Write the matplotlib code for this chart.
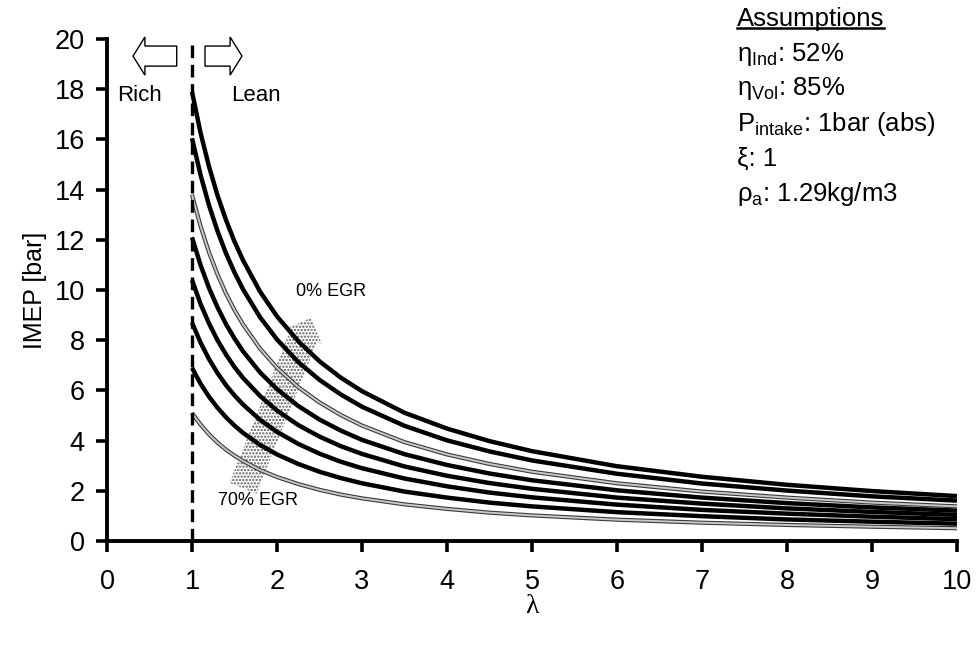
import matplotlib
matplotlib.use("Agg")
import matplotlib.pyplot as plt
from matplotlib.patches import FancyArrowPatch
from matplotlib.lines import Line2D

plt.rcParams['font.family'] = ['Liberation Sans', 'DejaVu Sans']
plt.rcParams['mathtext.fontset'] = 'custom'
plt.rcParams['mathtext.rm'] = 'Liberation Sans'
plt.rcParams['mathtext.it'] = 'Liberation Sans'
plt.rcParams['hatch.color'] = '#5a5a5a'
plt.rcParams['hatch.linewidth'] = 1.1

# ── data ──
LAMBDA = [1.0, 1.1, 1.2, 1.3, 1.4, 1.5, 1.6, 1.8, 2.0, 2.25, 2.5, 2.75,
          3.0, 3.5, 4.0, 4.5, 5.0, 6.0, 7.0, 8.0, 9.0, 10.0]

EGR_LABELS = ['0%', '10%', '20%', '30%', '40%', '50%', '60%', '70%']

IMEP_EGR00 = [17.90, 16.27, 14.92, 13.77, 12.79, 11.93, 11.19, 9.94, 8.95, 7.96, 7.16, 6.51,
              5.97, 5.11, 4.48, 3.98, 3.58, 2.98, 2.56, 2.24, 1.99, 1.79]
IMEP_EGR10 = [16.05, 14.59, 13.38, 12.35, 11.46, 10.70, 10.03, 8.92, 8.03, 7.13, 6.42, 5.84,
              5.35, 4.59, 4.01, 3.57, 3.21, 2.68, 2.29, 2.01, 1.78, 1.61]
IMEP_EGR20 = [13.80, 12.55, 11.50, 10.62, 9.86, 9.20, 8.63, 7.67, 6.90, 6.13, 5.52, 5.02,
              4.60, 3.94, 3.45, 3.07, 2.76, 2.30, 1.97, 1.73, 1.53, 1.38]
IMEP_EGR30 = [12.10, 11.00, 10.08, 9.31, 8.64, 8.07, 7.56, 6.72, 6.05, 5.38, 4.84, 4.40,
              4.03, 3.46, 3.03, 2.69, 2.42, 2.02, 1.73, 1.51, 1.34, 1.21]
IMEP_EGR40 = [10.40, 9.45, 8.67, 8.00, 7.43, 6.93, 6.50, 5.78, 5.20, 4.62, 4.16, 3.78,
              3.47, 2.97, 2.60, 2.31, 2.08, 1.73, 1.49, 1.30, 1.16, 1.04]
IMEP_EGR50 = [8.70, 7.91, 7.25, 6.69, 6.21, 5.80, 5.44, 4.83, 4.35, 3.87, 3.48, 3.16,
              2.90, 2.49, 2.18, 1.93, 1.74, 1.45, 1.24, 1.09, 0.97, 0.87]
IMEP_EGR60 = [6.90, 6.27, 5.75, 5.31, 4.93, 4.60, 4.31, 3.83, 3.45, 3.07, 2.76, 2.51,
              2.30, 1.97, 1.73, 1.53, 1.38, 1.15, 0.99, 0.86, 0.77, 0.69]
IMEP_EGR70 = [5.10, 4.64, 4.25, 3.92, 3.64, 3.40, 3.19, 2.83, 2.55, 2.27, 2.04, 1.85,
              1.70, 1.46, 1.28, 1.13, 1.02, 0.85, 0.73, 0.64, 0.57, 0.51]

CURVES = [IMEP_EGR00, IMEP_EGR10, IMEP_EGR20, IMEP_EGR30,
          IMEP_EGR40, IMEP_EGR50, IMEP_EGR60, IMEP_EGR70]
GRAY_CURVES = {'20%', '70%'}

ASSUMPTIONS = [r'$\eta_{\mathrm{Ind}}$: 52%',
               r'$\eta_{\mathrm{Vol}}$: 85%',
               r'$\mathrm{P}_{\mathrm{intake}}$: 1bar (abs)',
               'ξ: 1',
               r'$\rho_{\mathrm{a}}$: 1.29kg/m3']

fig = plt.figure(figsize=(9.79, 6.47), dpi=100)
ax = fig.add_axes([0.1093, 0.1638, 0.8682, 0.7759])

# ── curves ──
for label, vals in zip(EGR_LABELS, CURVES):
    if label in GRAY_CURVES:
        ax.plot(LAMBDA, vals, color='#3a3a3a', lw=3.0, zorder=3,
                solid_capstyle='butt')
        ax.plot(LAMBDA, vals, color='#c8c8c8', lw=1.4, zorder=3.1,
                solid_capstyle='butt')
    else:
        ax.plot(LAMBDA, vals, color='black', lw=3.2, zorder=3,
                solid_capstyle='butt')

# stoichiometric line
ax.axvline(1.0, color='black', lw=2.4, dashes=(3.8, 2.0), zorder=4)

# stippled EGR arrow (70% -> 0%)
egr_arrow = FancyArrowPatch(posA=(1.60, 2.1), posB=(2.40, 8.9),
                            arrowstyle='simple,head_length=0.7,head_width=1.35,tail_width=1.0',
                            mutation_scale=21, facecolor='white',
                            edgecolor='#5a5a5a', lw=0, hatch='.....',
                            shrinkA=0, shrinkB=0, zorder=1)
ax.add_patch(egr_arrow)

ax.text(2.22, 9.95, '0% EGR', fontsize=13, ha='left', va='center', zorder=5)
ax.text(1.31, 1.6, '70% EGR', fontsize=13, ha='left', va='center', zorder=5)

# rich / lean arrows
ax.arrow(0.82, 19.32, -0.514, 0, width=0.8, head_width=1.52, head_length=0.14,
         length_includes_head=True, fc='white', ec='black', lw=1.0,
         clip_on=False, zorder=5)
ax.arrow(1.153, 19.32, 0.435, 0, width=0.8, head_width=1.52, head_length=0.14,
         length_includes_head=True, fc='white', ec='black', lw=1.0,
         clip_on=False, zorder=5)
ax.text(0.12, 17.75, 'Rich', fontsize=16, ha='left', va='center')
ax.text(1.46, 17.75, 'Lean', fontsize=16, ha='left', va='center')

# ── axes ──
ax.set_xlim(0, 10)
ax.set_ylim(0, 20)
ax.set_xticks(range(0, 11))
ax.set_yticks(range(0, 21, 2))
for side in ('top', 'right'):
    ax.spines[side].set_visible(False)
for side in ('left', 'bottom'):
    ax.spines[side].set_linewidth(2.8)
ax.tick_params(axis='both', direction='out', length=8, width=2.6,
               labelsize=19.5)
ax.tick_params(axis='x', pad=12)
ax.tick_params(axis='y', pad=8)

ax.set_ylabel('IMEP [bar]', fontsize=18)
ax.set_xlabel('λ', fontsize=20, family=['Liberation Serif', 'DejaVu Serif'])
ax.yaxis.set_label_coords(-0.071, 0.5)
ax.xaxis.set_label_coords(0.5, -0.106)

# ── assumptions box ──
title = fig.text(737 / 979, 1 - 19 / 647, 'Assumptions', fontsize=18.5,
                 ha='left', va='center')
for i, line in enumerate(ASSUMPTIONS):
    fig.text(737 / 979, 1 - (54 + 35 * i) / 647, line, fontsize=18.5,
             ha='left', va='center')

fig.canvas.draw()
bb = title.get_window_extent().transformed(fig.transFigure.inverted())
fig.add_artist(Line2D([bb.x0, bb.x1], [bb.y0 + 0.005, bb.y0 + 0.005],
                      transform=fig.transFigure, color='black', lw=1.8))

fig.savefig('out.png', dpi=100)
